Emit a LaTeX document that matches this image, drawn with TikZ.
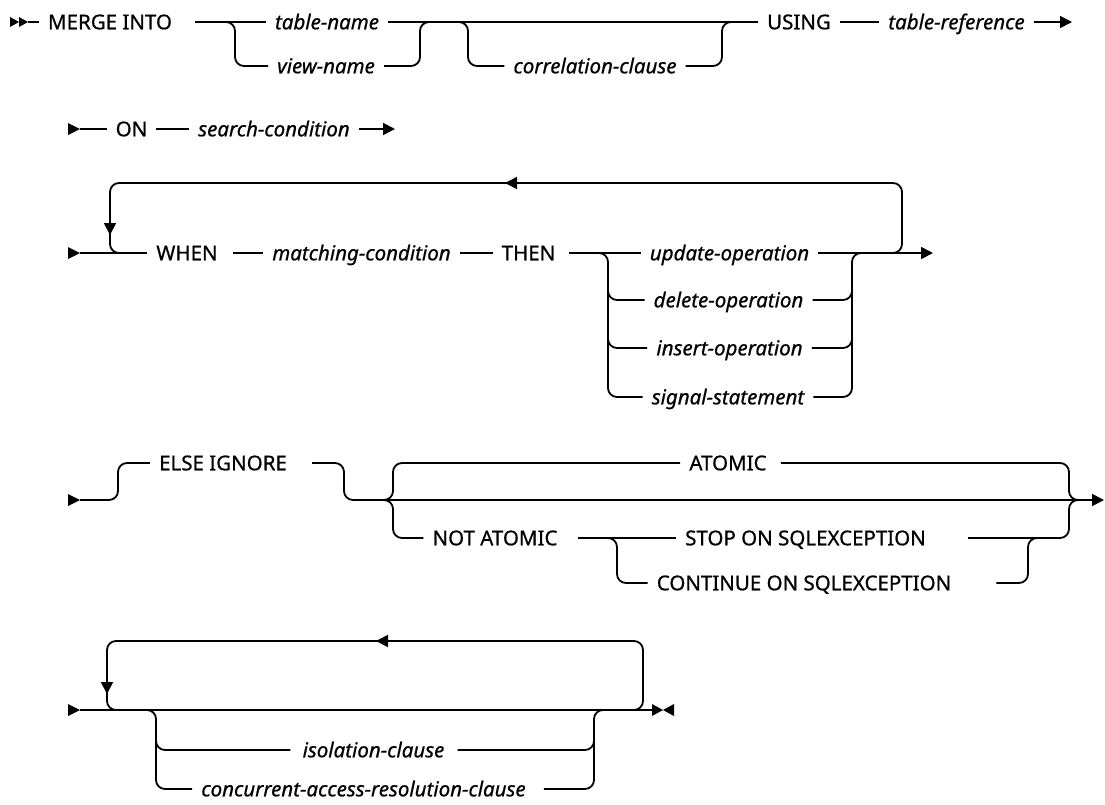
\documentclass[tikz,border=0pt]{standalone}
\usepackage{fontspec}
\setmainfont{Noto Sans}[FakeBold=0.7]
\usetikzlibrary{arrows.meta}

\begin{document}
\begin{tikzpicture}[x=1pt, y=-1pt,
  rail/.style={line width=1.8pt, rounded corners=9pt},
  flow/.style={-{Triangle[length=12pt, width=12pt]}},
  kw/.style={font=\fontsize{20.5}{24}\selectfont, inner xsep=9pt, inner ysep=0pt, text height=14.6pt, text depth=0pt},
  param/.style={kw, font=\fontsize{20.5}{24}\selectfont\itshape}]
  \useasboundingbox (0,0) rectangle (1105,804);

  % row 1: MERGE INTO ... USING
  \coordinate (s1) at (28,22);
  \fill (10,17) -- (19,22) -- (10,27) -- cycle;
  \fill (19,17) -- (28,22) -- (19,27) -- cycle;
  \node[kw] (merge) at (110,22) {MERGE INTO};
  \node[param] (tname) at (327,22) {table-name};
  \node[param] (vname) at (326,66) {view-name};
  \node[param] (corr) at (595,66) {correlation-clause};
  \node[kw] (using) at (799,22) {USING};
  \node[param] (tref) at (956.5,22) {table-reference};
  \draw[rail] (s1) -- (merge.west);
  \draw[rail] ([xshift=14pt]merge.east) -- (tname.west);
  \draw[rail] (220,22) -| (235,66) -- (vname.west);
  \draw[rail] (vname.east) -| (420,22) -- (432,22);
  \draw[rail] (tname.east) -- (using.west);
  \draw[rail] (455,22) -| (468,66) -- (corr.west);
  \draw[rail] (corr.east) -| (722,22) -- (734,22);
  \draw[rail] (using.east) -- (tref.west);
  \draw[rail, flow] (tref.east) -- (1072,22);

  % row 2: ON
  \coordinate (s2) at (80,129);
  \fill (68,123) -- (s2) -- (68,135) -- cycle;
  \node[kw] (on) at (131.5,129) {ON};
  \node[param] (scond) at (274,129) {search-condition};
  \draw[rail] (s2) -- (on.west);
  \draw[rail] (on.east) -- (scond.west);
  \draw[rail, flow] (scond.east) -- (395,129);

  % row 3: WHEN ... THEN
  \coordinate (s3) at (80,253);
  \fill (68,247) -- (s3) -- (68,259) -- cycle;
  \node[kw] (when) at (187,253) {WHEN};
  \node[param] (mcond) at (361.5,253) {matching-condition};
  \node[kw] (then) at (528.5,253) {THEN};
  \node[param] (upd) at (729.5,253) {update-operation};
  \node[param] (del) at (728.5,300) {delete-operation};
  \node[param] (ins) at (729.5,348) {insert-operation};
  \node[param] (sig) at (728,397) {signal-statement};
  \draw[rail] (s3) -- (when.west);
  \draw[rail] ([xshift=6pt]when.east) -- (mcond.west);
  \draw[rail] (mcond.east) -- (then.west);
  \draw[rail] ([xshift=5pt]then.east) -- (upd.west);
  \draw[rail, flow] (upd.east) -- (933,253);
  \draw[rail] (590,253) -| (608,397) -- (sig.west);
  \draw[rail] (608,270) |- (del.west);
  \draw[rail] (608,320) |- (ins.west);
  \draw[rail] (sig.east) -| (852,253) -- (864,253);
  \draw[rail] (del.east) -| (852,270);
  \draw[rail] (ins.east) -| (852,320);
  % repeat loop
  \draw[rail, flow] (885,253) -| (902,183) -- (505,183);
  \draw[rail, flow] (510,183) -| (110,235);
  \draw[rail] (110,230) |- (130,253);

  % row 4: ELSE IGNORE, ATOMIC
  \coordinate (s4) at (80,500);
  \fill (68,494) -- (s4) -- (68,506) -- cycle;
  \node[kw] (elseig) at (223,463) {ELSE IGNORE};
  \node[kw] (atomic) at (728,463) {ATOMIC};
  \node[kw] (notatomic) at (495,538) {NOT ATOMIC};
  \node[kw] (stop) at (805.5,538) {STOP ON SQLEXCEPTION};
  \node[kw] (cont) at (804,583) {CONTINUE ON SQLEXCEPTION};
  \draw[rail] (s4) -| (118,463) -- (elseig.west);
  \draw[rail, flow] ([xshift=16pt]elseig.east) -| (344,500) -- (1104,500);
  \draw[rail] (380,500) -| (393,463) -- (atomic.west);
  \draw[rail] (380,500) -| (393,538) -- (notatomic.west);
  \draw[rail] ([xshift=5pt]atomic.east) -| (1069,500) -- (1082,500);
  \draw[rail] ([xshift=11pt]notatomic.east) -- (stop.west);
  \draw[rail] ([xshift=33pt]stop.east) -| (1069,500) -- (1082,500);
  \draw[rail] (600,538) -| (617,583) -- (cont.west);
  \draw[rail] ([xshift=36pt]cont.east) -| (1028,538) -- (1040,538);

  % row 5: isolation / concurrent access
  \coordinate (s5) at (80,710);
  \coordinate (e5) at (652,710);
  \fill (68,704) -- (s5) -- (68,716) -- cycle;
  \fill (e5) ++(0,-6) -- ++(11,6) -- ++(-11,6) -- cycle;
  \fill (674,704) -- (663,710) -- (674,716) -- cycle;
  \node[param] (iso) at (373.5,750) {isolation-clause};
  \node[param] (conc) at (363.5,789) {concurrent-access-resolution-clause};
  \draw[rail] (s5) -- (e5);
  \draw[rail, flow] (625,710) -| (643,641) -- (376,641);
  \draw[rail, flow] (381,641) -| (107,694);
  \draw[rail] (107,690) |- (129,710);
  \draw[rail] (143,710) -| (156,789) -- (conc.west);
  \draw[rail] (156,730) |- ([xshift=-3pt]iso.west);
  \draw[rail] ([xshift=4pt]iso.east) -| (594,710) -- (606,710);
  \draw[rail] ([xshift=9pt]conc.east) -| (594,730);
\end{tikzpicture}
\end{document}
